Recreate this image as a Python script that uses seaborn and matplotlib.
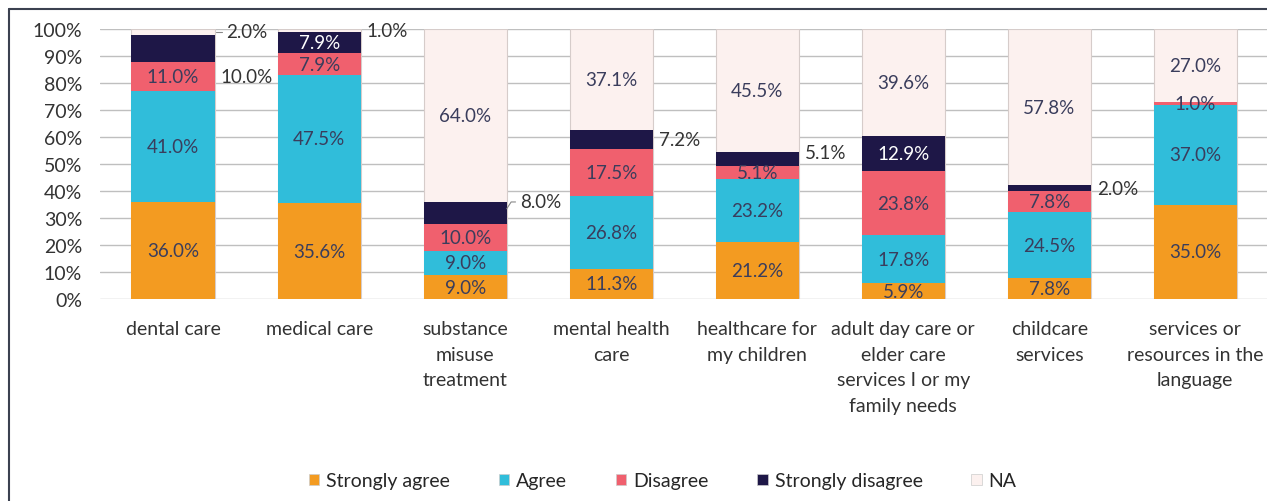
"""Stacked bars: agreement with access statements, by service type."""

import matplotlib.pyplot as plt
import matplotlib.patches as mpatches
import pandas as pd
import seaborn as sns

categories = ['dental care', 'medical care', 'substance misuse treatment',
              'mental health care', 'healthcare for my children',
              'adult day care or elder care services I or my family needs',
              'childcare services',
              'services or resources in the language']
tick_labels = ['dental care', 'medical care', 'substance\nmisuse\ntreatment',
               'mental health\ncare', 'healthcare for\nmy children',
               'adult day care or\nelder care\nservices I or my\nfamily needs',
               'childcare\nservices',
               'services or\nresources in the\nlanguage']
levels = ['Strongly agree', 'Agree', 'Disagree', 'Strongly disagree', 'NA']
strongly_agree = [36.0, 35.6, 9.0, 11.3, 21.2, 5.9, 7.8, 35.0]
agree = [41.0, 47.5, 9.0, 26.8, 23.2, 17.8, 24.5, 37.0]
disagree = [11.0, 7.9, 10.0, 17.5, 5.1, 23.8, 7.8, 1.0]
strongly_disagree = [10.0, 7.9, 8.0, 7.2, 5.1, 12.9, 2.0, 0.0]
na = [2.0, 1.0, 64.0, 37.1, 45.5, 39.6, 57.8, 27.0]

# labels Excel put beside the bar instead of inside (category index, level)
outside = [(0, 'Strongly disagree'), (0, 'NA'), (1, 'NA'),
           (2, 'Strongly disagree'), (3, 'Strongly disagree'),
           (4, 'Strongly disagree'), (6, 'Strongly disagree')]
nudge = {(0, 'Strongly disagree'): -10.5, (2, 'Strongly disagree'): 4.0,
         (4, 'Strongly disagree'): 2.2}

colors = {'Strongly agree': '#F39B21', 'Agree': '#30BDDA',
          'Disagree': '#F0606E', 'Strongly disagree': '#1E1747',
          'NA': '#FCF1EF'}

df = pd.DataFrame({'category': categories,
                   'Strongly agree': strongly_agree, 'Agree': agree,
                   'Disagree': disagree,
                   'Strongly disagree': strongly_disagree, 'NA': na})
cum = df[levels].cumsum(axis=1)

sns.set_style('white')
plt.rcParams['font.family'] = ['Lato', 'DejaVu Sans']

W = 0.57
TICKSIZE = 14
LABSIZE = 13.5
fig = plt.figure(figsize=(12.67, 5.02), dpi=100)
ax = fig.add_axes([0.079, 0.402, 0.922, 0.538])

# draw cumulative tops from the top layer down so the stack shows through
for lvl in reversed(levels):
    edge = '#D6CCCA' if lvl == 'NA' else 'none'
    sns.barplot(x=df['category'], y=cum[lvl], order=categories,
                color=colors[lvl], saturation=1, width=W, ax=ax,
                edgecolor=edge, linewidth=0.8, zorder=3)

for i in range(len(categories)):
    for j, lvl in enumerate(levels):
        val = df[lvl][i]
        if val <= 0:
            continue
        top = cum[lvl][i]
        mid = top - val / 2
        txt = '%.1f%%' % val
        if (i, lvl) in outside:
            y = mid + nudge.get((i, lvl), 0)
            xl = i + W / 2 + 0.04
            if (i, lvl) == (0, 'NA'):
                ax.plot([i + W / 2 + 0.01, i + W / 2 + 0.05], [y, y],
                        color='#888888', lw=0.8, zorder=4)
                xl = i + W / 2 + 0.075
            if (i, lvl) == (2, 'Strongly disagree'):
                ax.plot([i + W / 2, i + W / 2 + 0.03, i + W / 2 + 0.06],
                        [top - 2.5, y, y], color='#888888', lw=0.8,
                        zorder=4)
                xl = i + W / 2 + 0.09
            ax.text(xl, y, txt, ha='left', va='center', fontsize=LABSIZE,
                    color='#333333', zorder=5)
        else:
            c = 'white' if lvl == 'Strongly disagree' else '#3A3D5C'
            ax.text(i, mid, txt, ha='center', va='center', fontsize=LABSIZE,
                    color=c, zorder=5)

ax.set_xlim(-0.5, 7.5)
ax.set_ylim(0, 100)
ax.set_yticks(range(0, 101, 10))
ax.set_yticklabels(['%d%%' % v for v in range(0, 101, 10)])
ax.set_xticks(range(len(categories)))
ax.set_xticklabels(tick_labels, linespacing=1.62)
ax.set_xlabel('')
ax.set_ylabel('')
ax.tick_params(axis='both', length=0, labelsize=TICKSIZE, colors='#333333')
ax.tick_params(axis='x', pad=15)
ax.tick_params(axis='y', pad=13)
ax.yaxis.grid(True, color='#BFBFBF', lw=1, zorder=0)
ax.set_axisbelow(True)
for s in ax.spines.values():
    s.set_visible(False)

handles = [mpatches.Patch(facecolor=colors[l], edgecolor='#CCCCCC',
                          linewidth=0.5, label=l) for l in levels]
fig.legend(handles=handles, loc='center', bbox_to_anchor=(0.523, 0.04),
           ncol=5, frameon=False, fontsize=TICKSIZE, handlelength=0.55,
           handleheight=0.55, handletextpad=0.35, columnspacing=2.5)

# outer chart frame
fig.add_artist(plt.Line2D([9 / 1267, 9 / 1267], [0, 1 - 10 / 502],
                          color='#3B4150', lw=1.5))
fig.add_artist(plt.Line2D([9 / 1267, 1], [1 - 10 / 502, 1 - 10 / 502],
                          color='#3B4150', lw=1.5))

fig.savefig('out.png', dpi=100)
